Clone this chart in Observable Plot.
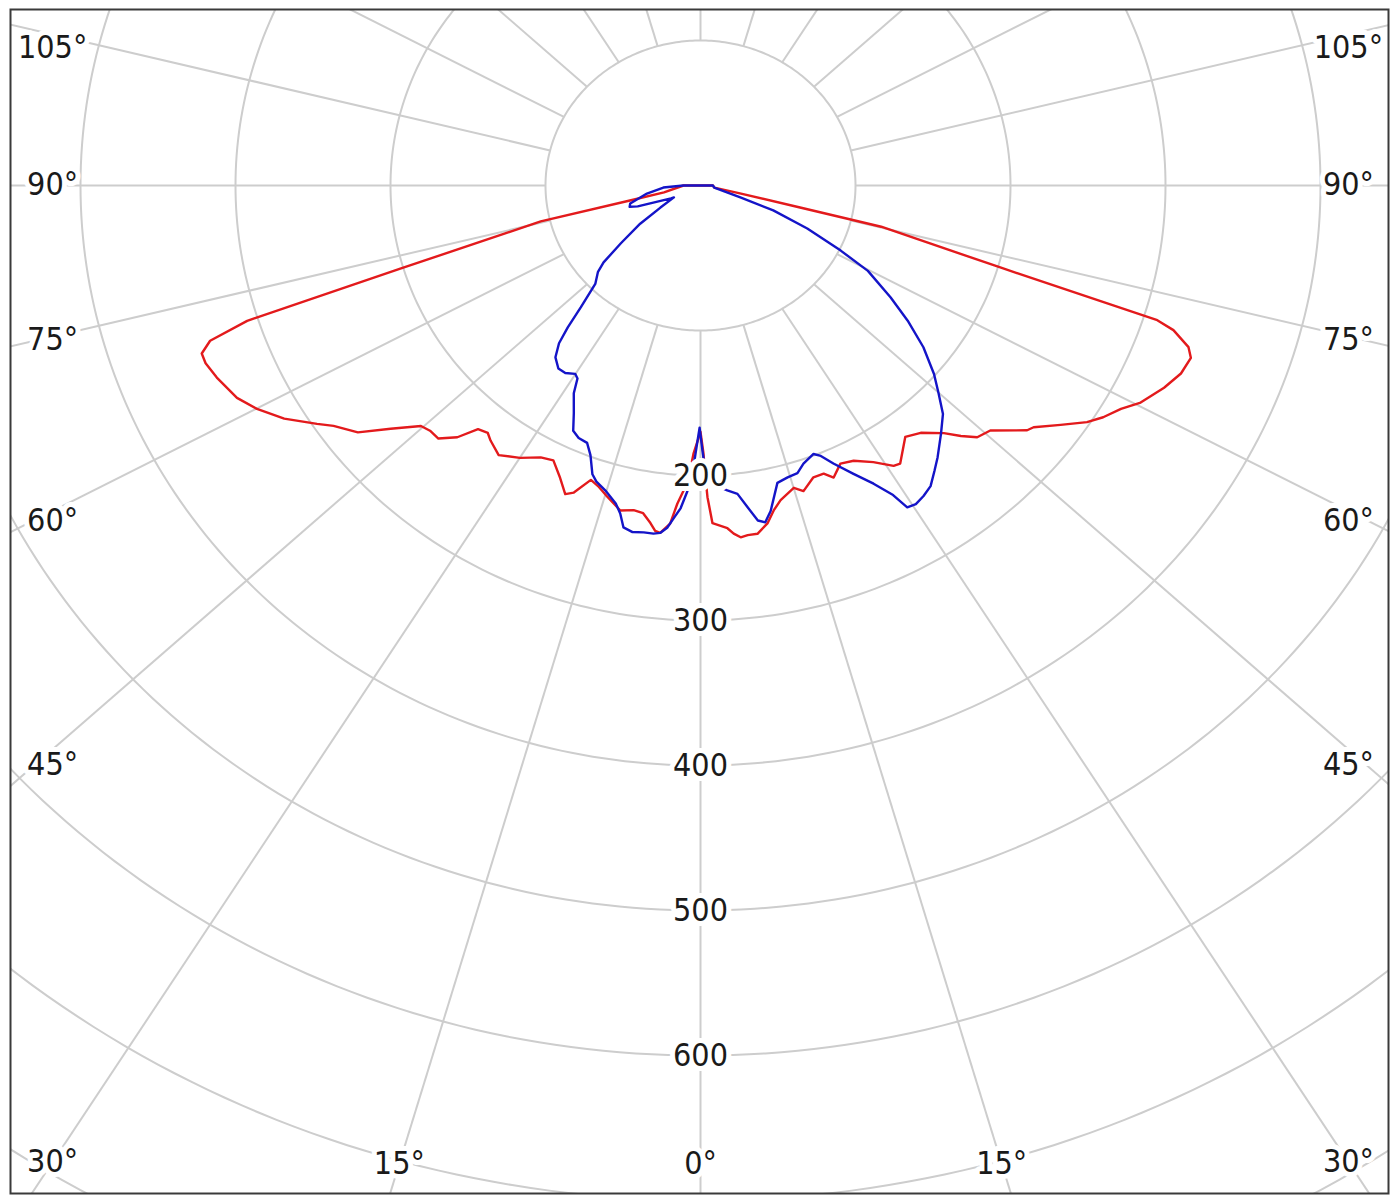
<!DOCTYPE html>
<html>
<head>
<meta charset="utf-8">
<script src="https://cdn.jsdelivr.net/npm/d3@7"></script>
<script src="https://cdn.jsdelivr.net/npm/@observablehq/plot@0.6"></script>
<style>
  html, body { margin: 0; padding: 0; background: #ffffff; }
  #chart { width: 1397px; height: 1196px; }
</style>
</head>
<body>
<div id="chart"></div>
<script>
// ---- data: luminous intensity (cd/klm) against gamma angle (deg, 0 = straight down, negative = left half)
const redAngle = [-90, -78.6, -77.2, -76.5, -73.5, -72.3, -71.3, -70.2, -69.0, -67.0, -63.9, -61.7, -59.1, -56.4, -55.0, -52.4, -50.0, -47.4, -45.9, -44.1, -42.1, -40.5, -38.8, -37.6, -35.0, -31.8, -28.8, -26.6, -24.2, -22.3, -21.1, -19.2, -17.5, -15.6, -13.0, -10.9, -9.3, -7.9, -7.0, -6.2, -4.8, -3.9, -3.0, -2.2, -1.4, -0.4, 0, 0.6, 0.9, 1.2, 1.9, 4.2, 5.1, 6.1, 7.2, 8.7, 10.5, 11.9, 13.4, 16.1, 17.5, 19.9, 21.8, 23.1, 25.2, 27.5, 30.3, 32.8, 33.9, 37.3, 39.8, 42.6, 44.2, 45.8, 47.9, 51.3, 52.2, 54.6, 56.8, 58.4, 60.4, 62.2, 65.0, 67.3, 69.4, 70.5, 71.9, 72.5, 73.7, 76.3, 76.7, 77.9, 80.5, 90];
const redValue = [11, 24, 46, 106, 202, 307, 334, 342, 342, 339, 333, 325, 313, 297, 289, 279, 261, 245, 243, 243, 234, 221, 219, 222, 227, 221, 214, 212, 221, 230, 227, 215, 218, 223, 230, 228, 229, 235, 240, 241, 234, 220, 211, 202, 185, 174, 170, 185, 201, 215, 233, 237, 241, 244, 243, 243, 237, 229, 223, 217, 221, 214, 214, 219, 212, 214, 221, 230, 231, 218, 222, 232, 241, 249, 252, 270, 272, 285, 298, 305, 312, 321, 330, 336, 338, 334, 321, 309, 202, 120, 66, 26, 9, 8];

const blueAngle = [-90, -86.6, -80.9, -74.7, -72.2, -70.4, -65.1, -64.5, -59.5, -55.9, -52.2, -49.7, -48.0, -45.0, -42.6, -41.2, -40.0, -38.3, -36.0, -34.0, -31.9, -30.8, -29.7, -27.5, -25.9, -24.3, -22.4, -20.9, -19.3, -18.2, -16.3, -14.0, -12.9, -11.9, -10.4, -8.7, -7.2, -6.2, -5.2, -4.3, -3.3, -2.3, -1.5, -1.0, -0.2, 0.4, 0.9, 2.7, 4.7, 6.4, 7.8, 9.1, 10.2, 11.4, 13.6, 15.6, 17.5, 19.1, 21.5, 22.6, 24.1, 26.4, 28.5, 30.2, 31.0, 32.3, 33.9, 35.6, 37.5, 39.2, 42.2, 44.8, 47.0, 49.2, 52.2, 55.1, 57.8, 61.4, 63.6, 66.7, 69.9, 72.2, 80.5, 90];
const blueValue = [11, 24, 35, 47, 48, 43, 21, 19, 30, 47, 65, 82, 89, 96, 114, 130, 142, 151, 156, 156, 153, 155, 165, 177, 188, 191, 192, 199, 211, 215, 219, 226, 232, 241, 243, 242, 242, 241, 237, 230, 223, 211, 199, 185, 167, 183, 197, 207, 211, 214, 224, 234, 236, 229, 211, 209, 208, 203, 199, 202, 210, 222, 234, 247, 259, 260, 258, 255, 248, 242, 231, 222, 210, 199, 182, 163, 145, 123, 101, 75, 50, 27, 9, 8];

const ringValues = [100, 200, 300, 400, 500, 600, 700, 800, 900];
const ringLabels = [200, 300, 400, 500, 600];
const spokeAngles = [-165, -150, -135, -120, -105, -90, -75, -60, -45, -30, -15, 0, 15, 30, 45, 60, 75, 90, 105, 120, 135, 150, 165, 180];
const angleLabels = [0, 15, 30, 45, 60, 75, 90, 105];

// ---- geometry helpers
const rad = d => d * Math.PI / 180;
const toXY = (deg, r) => ({x: r * Math.sin(rad(deg)), y: -r * Math.cos(rad(deg))});
const spokeSkew = 1.075;               // grid spokes are drawn slightly widened in the source
const skew = g => Math.atan2(spokeSkew * Math.sin(rad(g)), Math.cos(rad(g))) * 180 / Math.PI;

const red = redAngle.map((a, i) => toXY(a, redValue[i]));
const blue = blueAngle.map((a, i) => toXY(a, blueValue[i]));

const ringPts = ringValues.flatMap(r => d3.range(0, 361, 1).map(a => ({ring: r, ...toXY(a, r)})));
const spokes = spokeAngles.map(g => {
  const t = skew(g);
  const p1 = toXY(t, 100), p2 = toXY(t, 1400);
  return {x1: p1.x, y1: p1.y, x2: p2.x, y2: p2.y};
});

// label positions: where each spoke meets a box inset from the frame
const xLim = 418, yLim = 674.5;
const labelNudge = {0: 0, 15: 0, 30: 0, 45: 15, 60: 10, 75: 3, 90: -1, 105: 13};
const angleLabelPts = angleLabels.flatMap(g => (g === 0 ? [1] : [-1, 1]).map(side => {
  const t = rad(skew(side * g));
  const sx = Math.sin(t), cy = Math.cos(t);
  let k = Infinity;
  if (Math.abs(sx) > 1e-6) k = Math.min(k, xLim / Math.abs(sx));
  if (cy > 1e-6) k = Math.min(k, yLim / cy);
  return {x: k * sx, y: -k * cy - labelNudge[g] / 1.45, label: g + "°"};
}));

const font = "Tahoma, 'DejaVu Sans Condensed', 'DejaVu Sans', sans-serif";
const grid = "#cdcdcd";
const labelStyle = {fontSize: 32, fill: "#1a1a1a", stroke: "#ffffff", strokeWidth: 10, fontFamily: font};

const chart = Plot.plot({
  width: 1397,
  height: 1196,
  marginLeft: 10,
  marginRight: 9,
  marginTop: 9,
  marginBottom: 3,
  x: {domain: [-445.16, 443.87], axis: null},
  y: {domain: [-695.17, 121.38], axis: null},
  style: {background: "#ffffff", fontFamily: font},
  marks: [
    Plot.line(ringPts, {x: "x", y: "y", z: "ring", stroke: grid, strokeWidth: 2, clip: true}),
    Plot.link(spokes, {x1: "x1", y1: "y1", x2: "x2", y2: "y2", stroke: grid, strokeWidth: 2, clip: true}),
    Plot.line(red, {x: "x", y: "y", stroke: "#e31a1c", strokeWidth: 2.4, curve: "linear-closed"}),
    Plot.line(blue, {x: "x", y: "y", stroke: "#1414c8", strokeWidth: 2.4, curve: "linear-closed"}),
    Plot.text(ringLabels, {x: 0, y: d => -d, text: d => String(d), ...labelStyle}),
    Plot.text(angleLabelPts, {x: "x", y: "y", text: "label", ...labelStyle}),
    Plot.frame({stroke: "#3a3a3a", strokeWidth: 2})
  ]
});
document.getElementById("chart").appendChild(chart);
</script>
</body>
</html>
